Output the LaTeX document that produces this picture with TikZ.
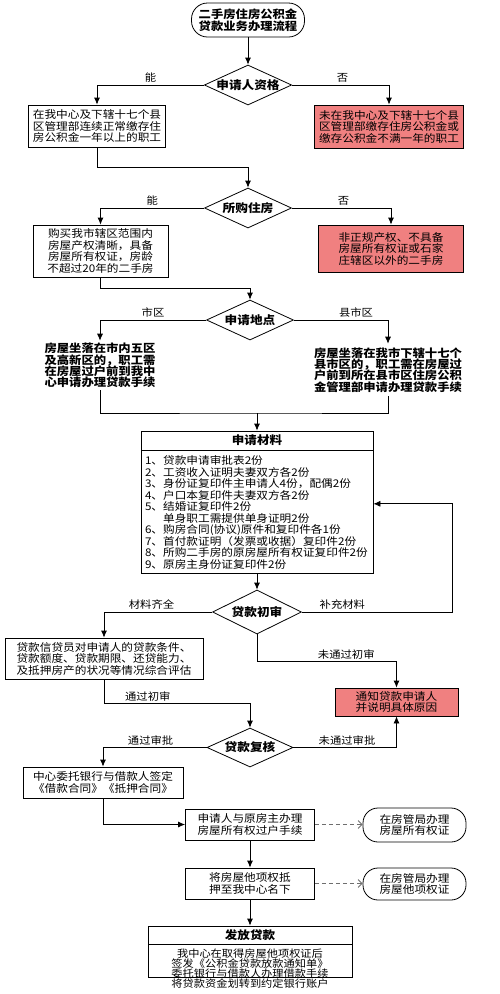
\documentclass[tikz,border=0pt]{standalone}
\usepackage{fontspec}
\setmainfont{Noto Sans CJK SC}[FakeStretch=1.1]
\usepackage{tikz}
\usetikzlibrary{positioning, arrows.meta, shapes.geometric, calc}
\definecolor{noteRed}{RGB}{240,128,128}
\definecolor{dashGray}{RGB}{110,110,110}

\begin{document}
\begin{tikzpicture}[
                x=1pt, y=-1pt,
                txt/.style={font={\fontsize{10.6}{11.5}\selectfont\lineskiplimit=-20pt}},
                box/.style={rectangle, draw=black, line width=0.8pt, inner sep=2pt, align=center, txt},
                redbox/.style={box, fill=noteRed},
                dbox/.style={box, double, line width=0.6pt, double distance=1.1pt, font={\fontsize{11.2}{11.3}\selectfont\bfseries\lineskiplimit=-20pt}},
                headbox/.style={box, font=\fontsize{11.4}{11.4}\selectfont\bfseries},
                decision/.style={diamond, draw=black, line width=0.8pt, aspect=2.2, inner sep=0pt, minimum width=87pt, minimum height=40pt, font=\fontsize{11.5}{11.5}\selectfont\bfseries},
                terminal/.style={rectangle, rounded corners=15pt, draw=black, line width=0.8pt, align=center, inner sep=1pt, txt},
                elabel/.style={above, inner sep=2pt, font=\fontsize{10.3}{10.3}\selectfont},
                line/.style={line width=0.8pt},
                arrow/.style={-{Latex[length=7pt,width=6pt]}, line width=0.8pt},
                dasharrow/.style={-{Straight Barb[length=4pt,width=8pt]}, dash pattern=on 4pt off 3pt, draw=dashGray, line width=0.8pt}
            ]
                \useasboundingbox (0,0) rectangle (500,994);
                \clip (0,0) rectangle (500,994);

                % --- START AND QUALIFICATION ---
                \node[terminal, rounded corners=16pt, minimum width=113pt, minimum height=34pt, font={\fontsize{11.2}{11.7}\selectfont\bfseries\lineskiplimit=-20pt}] (start) at (248,20) {二手房住房公积金\\贷款业务办理流程};
                \node[decision] (qual) at (248,85) {申请人资格};
                \node[box, minimum width=137pt, minimum height=42pt] (qualYes) at (97,126) {在我中心及下辖十七个县\\区管理部连续正常缴存住\\房公积金一年以上的职工};
                \node[redbox, minimum width=149pt, minimum height=43pt] (qualNo) at (389,126.5) {未在我中心及下辖十七个县\\区管理部缴存住房公积金或\\缴存公积金不满一年的职工};

                \draw[arrow] (start) -- (qual);
                \draw[arrow] (qual.west) -| node[elabel, pos=0.25] {能} (qualYes.north);
                \draw[arrow] (qual.east) -| node[elabel, pos=0.26] {否} (qualNo.north);

                % --- HOUSE ---
                \node[decision] (house) at (248,208) {所购住房};
                \node[box, minimum width=135pt, minimum height=52pt] (houseYes) at (100.5,251) {购买我市辖区范围内\\房屋产权清晰，具备\\房屋所有权证，房龄\\不超过20年的二手房};
                \node[redbox, minimum width=145pt, minimum height=47pt] (houseNo) at (391,248.5) {非正规产权、不具备\\房屋所有权证或石家\\庄辖区以外的二手房};

                \draw[arrow] (qualYes.south) -- ++(0,20) -| (house.north);
                \draw[arrow] (house.west) -| node[elabel, pos=0.25] {能} (houseYes.north);
                \draw[arrow] (house.east) -| node[elabel, pos=0.26] {否} (houseNo.north);

                % --- PLACE ---
                \node[decision] (place) at (250,320) {申请地点};
                \node[dbox, minimum width=134pt, minimum height=49pt] (cityBox) at (100,365.5) {房屋坐落在市内五区\\及高新区的，职工需\\在房屋过户前到我中\\心申请办理贷款手续};
                \node[dbox, minimum width=156pt, minimum height=52pt] (countyBox) at (388,370) {房屋坐落在我市下辖十七个\\县市区的，职工需在房屋过\\户前到所在县市区住房公积\\金管理部申请办理贷款手续};

                \draw[arrow] (houseYes.south) -- ++(0,11) -| (place.north);
                \draw[arrow] (place.west) -| node[elabel, pos=0.25] {市区} (cityBox.north);
                \draw[arrow] (place.east) -| node[elabel, pos=0.33] {县市区} (countyBox.north);

                % --- MATERIALS ---
                \coordinate (merge) at (257,413);
                \node[headbox, minimum width=232pt, minimum height=19pt] (matHead) at (257,440.5) {申请材料};
                \node[box, align=left, text width=224pt, inner sep=4pt, minimum height=123pt, anchor=north] (matBody) at (matHead.south) {1、贷款申请审批表2份\\2、工资收入证明夫妻双方各2份\\3、身份证复印件主申请人4份，配偶2份\\4、户口本复印件夫妻双方各2份\\5、结婚证复印件2份\\\phantom{5、}单身职工需提供单身证明2份\\6、购房合同(协议)原件和复印件各1份\\7、首付款证明（发票或收据）复印件2份\\8、所购二手房的原房屋所有权证复印件2份\\9、原房主身份证复印件2份};

                \draw[line] (cityBox.south) |- (merge) -| (countyBox.south);
                \draw[arrow] (merge) -- (matHead.north);

                % --- FIRST CHECK ---
                \node[decision, minimum width=89pt, minimum height=44pt] (firstCheck) at (257,612) {贷款初审};
                \node[box, minimum width=198pt, minimum height=41pt] (assessBox) at (104,658.5) {贷款信贷员对申请人的贷款条件、\\贷款额度、贷款期限、还贷能力、\\及抵押房产的状况等情况综合评估};
                \node[redbox, minimum width=123pt, minimum height=28pt] (rejectBox) at (396.5,702) {通知贷款申请人\\并说明具体原因};

                \draw[arrow] (matBody.south) -- (firstCheck.north);
                \draw[arrow] (firstCheck.west) -| node[elabel, pos=0.28] {材料齐全} (assessBox.north);
                \draw[arrow] (firstCheck.east) -- node[elabel, pos=0.27] {补充材料} ++(150,0) |- ([yshift=8.5pt]matBody.east);
                \draw[arrow] (firstCheck.south) -- ++(0,27) -| node[elabel, pos=0.32] {未通过初审} (rejectBox.north);

                % --- REVIEW ---
                \node[decision, minimum width=86pt, minimum height=39pt] (review) at (250,747.5) {贷款复核};
                \node[box, minimum width=160pt, minimum height=31pt] (contractBox) at (103,782.5) {中心委托银行与借款人签定\\《借款合同》《抵押合同》};

                \draw[arrow] (assessBox.south) -- ++(0,24) -| node[elabel, pos=0.15] {通过初审} (review.north);
                \draw[arrow] (review.west) -| node[elabel, pos=0.27] {通过审批} (contractBox.north);
                \draw[arrow] (review.east) -| node[elabel, pos=0.26] {未通过审批} (rejectBox.south);

                % --- TRANSFER AND MORTGAGE ---
                \node[box, minimum width=129pt, minimum height=31pt] (transferBox) at (250,824.5) {申请人与原房主办理\\房屋所有权过户手续};
                \node[terminal, minimum width=103pt, minimum height=34pt] (certOne) at (414.5,825) {在房管局办理\\房屋所有权证};
                \node[box, minimum width=129pt, minimum height=31pt] (mortgageBox) at (250,883.5) {将房屋他项权抵\\押至我中心名下};
                \node[terminal, minimum width=103pt, minimum height=32pt] (certTwo) at (414.5,884) {在房管局办理\\房屋他项权证};

                \draw[arrow] (contractBox.south) |- (transferBox.west);
                \draw[dasharrow] (transferBox.east) -- (transferBox.east -| certOne.west);
                \draw[arrow] (transferBox) -- (mortgageBox);
                \draw[dasharrow] (mortgageBox.east) -- (mortgageBox.east -| certTwo.west);

                % --- LOAN ---
                \node[headbox, minimum width=204pt, minimum height=18pt] (loanHead) at (250,935) {发放贷款};
                \node[box, text width=196pt, inner sep=4pt, anchor=north, text depth=16pt, font={\fontsize{10.2}{10.2}\selectfont\lineskiplimit=-20pt}] (loanBody) at (loanHead.south) {我中心在取得房屋他项权证后\\签发《公积金贷款放款通知单》\\委托银行与借款人办理借款手续\\将贷款资金划转到约定银行账户};

                \draw[arrow] (mortgageBox) -- (loanHead);

            \end{tikzpicture}
\end{document}
